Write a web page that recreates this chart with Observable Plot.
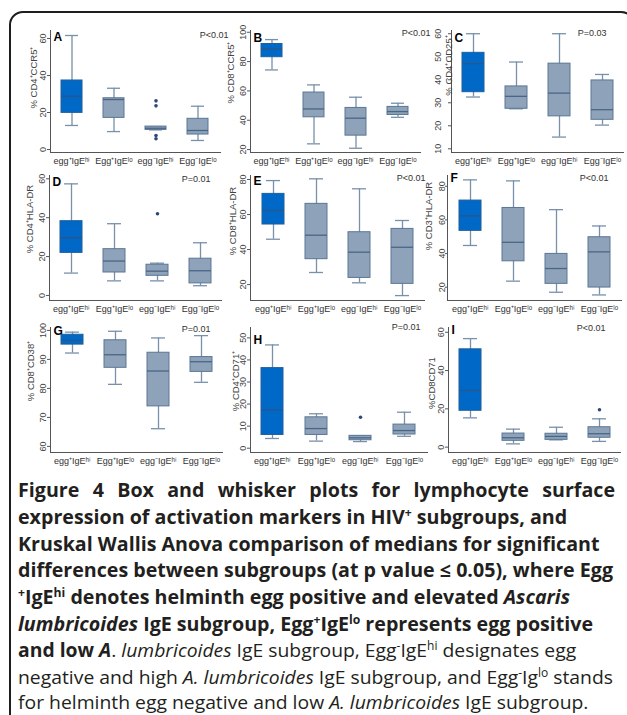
<!DOCTYPE html>
<html><head><meta charset="utf-8">
<script src="https://cdn.jsdelivr.net/npm/d3@7"></script>
<script src="https://cdn.jsdelivr.net/npm/@observablehq/plot@0.6"></script>
<style>
html,body{margin:0;padding:0;background:#fff;}
#fig{position:relative;width:627px;height:715px;overflow:hidden;background:#fff;}
#frame{position:absolute;left:9px;top:11px;width:626px;height:800px;border:2px solid #1e1e1e;border-radius:14px;box-sizing:border-box;}
.panel{position:absolute;}
.cap{position:absolute;left:18px;white-space:nowrap;transform-origin:0 50%;font-family:"Open Sans",sans-serif;font-size:19px;color:#231f20;line-height:20px;height:20px;}
.cap sup{font-size:0.62em;line-height:0;vertical-align:0.6em;}
</style></head><body><div id="fig"><div id="frame"></div></div>
<script>
// ---------- data ----------
const groups = ["egg⁺IgEʰⁱ", "Egg⁺IgEˡᵒ", "egg⁻IgEʰⁱ", "Egg⁻IgEˡᵒ"];
// each box: [lower whisker, Q1, median, Q3, upper whisker]
const statsA = [[13, 19.8, 28.8, 37.3, 61.6], [9.7, 17.1, 27, 27.7, 33.1], [10.6, 10.6, 11.5, 12.4, 12.4], [4.9, 8.1, 10.3, 16.6, 23.4]];
const statsB = [[74.3, 83, 88.6, 92, 95], [23.9, 42, 47.7, 58.9, 64.1], [20.9, 29.5, 41.4, 48.4, 55.7], [42, 43.6, 45.9, 49.1, 51.6]];
const statsC = [[32.5, 34.6, 47, 51.7, 60], [27.4, 27.4, 32.8, 37.1, 47.7], [15.1, 24.1, 34.2, 47, 60], [20.3, 22.6, 27, 39.7, 42.3]];
const statsD = [[11.5, 21.9, 29.7, 38.2, 57.4], [7.5, 11.8, 17.7, 23.8, 36.9], [7.5, 10.1, 12.5, 15.8, 16.6], [5, 6.2, 12.7, 18.9, 27.1]];
const statsE = [[45.9, 54.3, 62.3, 71.8, 79.4], [26.9, 34.5, 48.2, 66.1, 80.4], [21, 23.8, 38.5, 49.9, 74.7], [13.7, 20.4, 41.3, 51.8, 56.6]];
const statsF = [[44.8, 53.5, 62.4, 71.5, 83.8], [23.6, 35.4, 46.7, 67.1, 83.2], [17, 22, 31.1, 39.8, 66.1], [15.4, 19.8, 41, 49.7, 56.4]];
const statsG = [[92.2, 95.1, 96.6, 98.5, 99.4], [81.4, 87.1, 91.6, 96.6, 99.7], [66.1, 73.8, 86, 92.3, 97.4], [82.1, 85.7, 89.2, 90.8, 98.2]];
const statsH = [[4.4, 6, 17.4, 36.3, 46.8], [3.2, 6, 8.9, 14, 15.6], [3, 3.6, 4.7, 5.6, 5.6], [5.4, 6.2, 8, 10.7, 16.3]];
const statsI = [[15.3, 19, 29.6, 51.1, 56.7], [1.7, 3.3, 4.9, 7.1, 9.4], [3.8, 3.8, 5.6, 7, 10.4], [3, 4.9, 7, 10.4, 14.8]];
// outliers: [group index, value]
const outliersA = [[2, 26.3], [2, 23.6], [2, 7.6], [2, 5.8]];
const outliersD = [[2, 42]];
const outliersH = [[2, 14]];
const outliersI = [[3, 19.5]];
const panelLetters = ["A", "B", "C", "D", "E", "F", "G", "H", "I"];
const yLabels = ["% CD4⁺CCR5⁺", "% CD8⁺CCR5⁺", "% CD4⁺CD25⁺", "% CD4⁺HLA-DR", "% CD8⁺HLA-DR", "% CD3⁺HLA-DR", "% CD8⁺CD38⁺", "% CD4⁺CD71⁺", "%CD8CD71"];
const pValues = ["P<0.01", "P<0.01", "P=0.03", "P=0.01", "P<0.01", "P<0.01", "P=0.01", "P=0.01", "P<0.01"];
const yTicks = [[0, 20, 40, 60], [20, 40, 60, 80, 100], [10, 20, 30, 40, 50, 60], [0, 20, 40, 60], [20, 40, 60, 80], [20, 40, 60, 80], [60, 70, 80, 90, 100], [0, 10, 20, 30, 40, 50], [0, 20, 40, 60]];
const yDomains = [[-1.6, 64.3], [18, 101.2], [8.4, 61.4], [-2.6, 61.7], [10.9, 82.3], [12.1, 86.4], [57.9, 101], [-1.95, 54.7], [-2.8, 62.5]];
const allStats = [statsA, statsB, statsC, statsD, statsE, statsF, statsG, statsH, statsI];
const allOutliers = [outliersA, [], [], outliersD, [], [], [], outliersH, outliersI];

// ---------- layout ----------
const layout = [
  {ax: 50, right: 220, top: 30, bottom: 152, pdx: 8, pdy: 5, ldy: 2, tdx: -17, tdy: -14, ts: 3, tp: 2},
  {ax: 250, right: 420, top: 30, bottom: 152, pdx: 10, pdy: 3, ldy: 3, tdx: -20, tdy: -19, ts: 3, tp: 2},
  {ax: 451, right: 623, top: 30, bottom: 152, pdx: -17, pdy: 3, ldy: 3, tdx: -3, tdy: -26, ts: 3, tp: 8},
  {ax: 49, right: 221, top: 175, bottom: 300, pdx: -11, pdy: 4, ldy: 2, tdx: -20, tdy: -19, ts: 3, tp: 2},
  {ax: 250, right: 424, top: 175, bottom: 300, pdx: 1, pdy: 3, ldy: 1, tdx: -18, tdy: -17, ts: 3, tp: 2},
  {ax: 447, right: 621, top: 175, bottom: 300, pdx: -13, pdy: 3, ldy: -2, tdx: -19, tdy: -22, ts: 2, tp: 1},
  {ax: 50, right: 222, top: 327, bottom: 452, pdx: -12, pdy: 2, ldy: -1, tdx: -20, tdy: -19, ts: 3, tp: 2},
  {ax: 250, right: 427, top: 327, bottom: 452, pdx: -7, pdy: 0, ldy: 8, tdx: -15, tdy: -9, ts: 3, tp: 2},
  {ax: 448, right: 620, top: 327, bottom: 452, pdx: -15, pdy: 1, ldy: -2, tdx: -17, tdy: -7, ts: 3, tp: 2}
];
const font = "'Liberation Sans', Arial, sans-serif";
const fig = document.getElementById("fig");

allStats.forEach((stats, k) => {
  const L = layout[k];
  const rows = stats.map((s, i) => ({g: groups[i], lo: s[0], q1: s[1], med: s[2], q3: s[3], hi: s[4]}));
  const outs = allOutliers[k].map(([i, v]) => ({g: groups[i], v}));
  const mL = 50, mR = 15, mT = 20, mB = 25;
  const W = L.right - L.ax + mL + mR;
  const H = L.bottom - L.top + mT + mB;
  const first = rows.slice(0, 1), rest = rows.slice(1);
  const wh = "#7890aa";
  const svg = Plot.plot({
    width: W, height: H, marginLeft: mL, marginRight: mR, marginTop: mT, marginBottom: mB,
    style: {background: "transparent", overflow: "visible", fontFamily: font},
    x: {type: "band", domain: groups, paddingInner: 0.49, paddingOuter: 0.24, axis: null},
    y: {domain: yDomains[k], axis: null},
    marks: [
      Plot.ruleX(rows, {x: "g", y1: "lo", y2: "hi", stroke: wh, strokeWidth: 1.3}),
      Plot.tickY(rows, {x: "g", y: "lo", stroke: wh, strokeWidth: 1.3, insetLeft: 4, insetRight: 4}),
      Plot.tickY(rows, {x: "g", y: "hi", stroke: wh, strokeWidth: 1.3, insetLeft: 4, insetRight: 4}),
      Plot.barY(first, {x: "g", y1: "q1", y2: "q3", fill: "#0068c6", stroke: "#1f5f9c", strokeWidth: 1}),
      Plot.barY(rest, {x: "g", y1: "q1", y2: "q3", fill: "#8ea2ba", stroke: "#5a7694", strokeWidth: 1}),
      Plot.tickY(first, {x: "g", y: "med", stroke: "#2a5688", strokeWidth: 1.3}),
      Plot.tickY(rest, {x: "g", y: "med", stroke: "#4a6685", strokeWidth: 1.3}),
      Plot.dot(outs, {x: "g", y: "v", r: 1.8, fill: "#2b4a75", stroke: "none"}),
      Plot.axisY({ticks: yTicks[k], tickSize: L.ts, tickPadding: L.tp, tickRotate: -90, fontSize: 9, label: null, color: "#444", stroke: "#555"}),
      Plot.axisX({tickSize: 0, tickPadding: 5, fontSize: 9, label: null, color: "#333"}),
      Plot.frame({anchor: "left", stroke: "#555"}),
      Plot.frame({anchor: "bottom", stroke: "#555"}),
      Plot.text([yLabels[k]], {text: d => d, frameAnchor: "left", textAnchor: "middle", lineAnchor: "middle", dx: L.tdx, dy: L.tdy, rotate: -90, fontSize: 9.5, fill: "#444"}),
      Plot.text([panelLetters[k]], {text: d => d, frameAnchor: "top-left", textAnchor: "start", lineAnchor: "top", dx: 3, dy: L.ldy, fontSize: 12, fontWeight: "bold", fill: "#000"}),
      Plot.text([pValues[k]], {text: d => d, frameAnchor: "top-right", textAnchor: "end", lineAnchor: "middle", dx: L.pdx, dy: L.pdy, fontSize: 9, fill: "#333"})
    ]
  });
  svg.classList.add("panel");
  svg.style.left = (L.ax - mL) + "px";
  svg.style.top = (L.top - mT) + "px";
  fig.appendChild(svg);
});

// ---------- caption ----------
const captionLines = [
  "<b>Figure 4 Box and whisker plots for lymphocyte surface</b>",
  "<b>expression of activation markers in HIV<sup>+</sup> subgroups, and</b>",
  "<b>Kruskal Wallis Anova comparison of medians for significant</b>",
  "<b>differences between subgroups (at p value ≤ 0.05), where Egg</b>",
  "<b><sup>+</sup>IgE<sup>hi</sup> denotes helminth egg positive and elevated <i>Ascaris</i></b>",
  "<b><i>lumbricoides</i> IgE subgroup, Egg<sup>+</sup>IgE<sup>lo</sup> represents egg positive</b>",
  "<b>and low <i>A</i></b>. <i>lumbricoides</i> IgE subgroup, Egg<sup>-</sup>IgE<sup>hi</sup> designates egg",
  "negative and high <i>A. lumbricoides</i> IgE subgroup, and Egg<sup>-</sup>Ig<sup>lo</sup> stands",
  "for helminth egg negative and low <i>A. lumbricoides</i> IgE subgroup."
];
const capCenters = [490, 517, 544, 570, 597, 624, 650, 677, 702];
const divs = captionLines.map((h, i) => {
  const d = document.createElement("div");
  d.className = "cap";
  d.innerHTML = h;
  d.style.top = (capCenters[i] - 10) + "px";
  fig.appendChild(d);
  return d;
});
const nat = divs.map(d => d.getBoundingClientRect().width);
// the longest bold line and regular line 8 run to the right margin
const sBold = Math.min((613 - 18) / nat[3], (613 - 18) / nat[5]);
const sReg = (613 - 18) / nat[7];
divs.forEach((d, i) => {
  if (i === 0) {
    const nSpaces = captionLines[0].replace(/<[^>]+>/g, "").split(" ").length - 1;
    d.style.wordSpacing = (((615 - 18) / sBold - nat[0]) / nSpaces) + "px";
    d.style.transform = `scaleX(${sBold})`;
  } else {
    d.style.transform = `scaleX(${i >= 6 ? sReg : sBold})`;
  }
});
</script></body></html>
